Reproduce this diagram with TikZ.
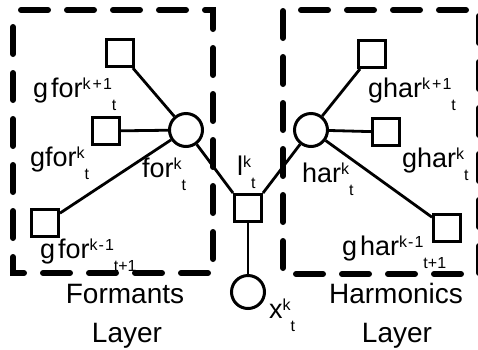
\documentclass[tikz,border=0pt]{standalone}
\usepackage{fontspec}
\setmainfont{Liberation Sans}
% label with a raised index and a lowered index set after it
\newcommand\tagidx[3]{#1\raisebox{8pt}{\fontsize{16}{16}\selectfont #2}\raisebox{-13pt}{\fontsize{16}{16}\selectfont #3}}
\begin{document}
\begin{tikzpicture}[x=1pt,y=-1pt,
  layerbox/.style={line width=6pt, line cap=round, dash pattern=on 27pt off 19pt},
  unit/.style={draw, line width=3pt, inner sep=0pt},
  sqnode/.style={unit, rectangle, minimum size=27pt},
  cinode/.style={unit, circle, minimum size=33pt},
  link/.style={line width=2.8pt},
  lab/.style={anchor=base west, inner sep=0pt, font=\fontsize{27}{27}\selectfont},
  captext/.style={anchor=base, inner sep=0pt, font=\fontsize{28}{28}\selectfont}
]
\useasboundingbox (0,0) rectangle (478,349);

% layer frames
\draw[layerbox, dash phase=38pt] (13,10) -- (213,10) -- (213,273) -- (13,273) -- cycle;
\draw[layerbox, dash phase=28pt] (283,10) -- (479,10) -- (479,274) -- (283,274) -- cycle;

% formant side
\node[cinode] (for) at (186,130) {};
\node[sqnode] (gf1) at (120,53) {};
\node[sqnode] (gf2) at (106,131) {};
\node[sqnode] (gf3) at (45,223) {};

% harmonic side
\node[cinode] (har) at (311,130) {};
\node[sqnode] (gh1) at (372,54) {};
\node[sqnode] (gh2) at (386,132) {};
\node[sqnode] (gh3) at (447,228) {};

% shared factor and observation
\node[sqnode] (l) at (248,208) {};
\node[cinode] (x) at (248,292) {};

\draw[link] (for) -- (gf1);
\draw[link] (for) -- (gf2);
\draw[link] (for) -- (gf3);
\draw[link] (for) -- (l.north west);
\draw[link] (har) -- (gh1);
\draw[link] (har) -- (gh2);
\draw[link] (har) -- (gh3);
\draw[link] (har) -- (l.north east);
\draw[link] (l) -- (x);

% labels
\node[lab] (tgf1) at (33,97) {\tagidx{g\hspace{3pt}for}{k\hspace{2pt}+\hspace{1pt}1}{t}};
\node[lab] (tgf2) at (30,166) {\tagidx{gfor}{k}{t}};
\node[lab] (tgf3) at (40,258) {\tagidx{g\hspace{3pt}for}{k\hspace{1pt}-\hspace{1pt}1}{t+1}};
\node[lab] (tfor) at (142,177) {\tagidx{for}{k}{t}};
\node[lab] (tl) at (237,175) {\tagidx{l}{k}{t}};
\node[lab] (thar) at (302,182) {\tagidx{har}{k}{t}};
\node[lab] (tgh1) at (368,97) {\tagidx{ghar}{k\hspace{2pt}+\hspace{1pt}1}{t}};
\node[lab] (tgh2) at (402,167) {\tagidx{ghar}{k}{t}};
\node[lab] (tgh3) at (342,255) {\tagidx{g\hspace{3pt}har}{k\hspace{1pt}-\hspace{1pt}1}{t+1}};
\node[lab] (tx) at (269,318) {\tagidx{x}{k}{t}};

% layer names
\node[captext] (fa) at (125,303) {Formants};
\node[captext] (fb) at (127,342) {Layer};
\node[captext] (ha) at (396,303) {Harmonics};
\node[captext] (hb) at (397,342) {Layer};
\end{tikzpicture}
\end{document}
